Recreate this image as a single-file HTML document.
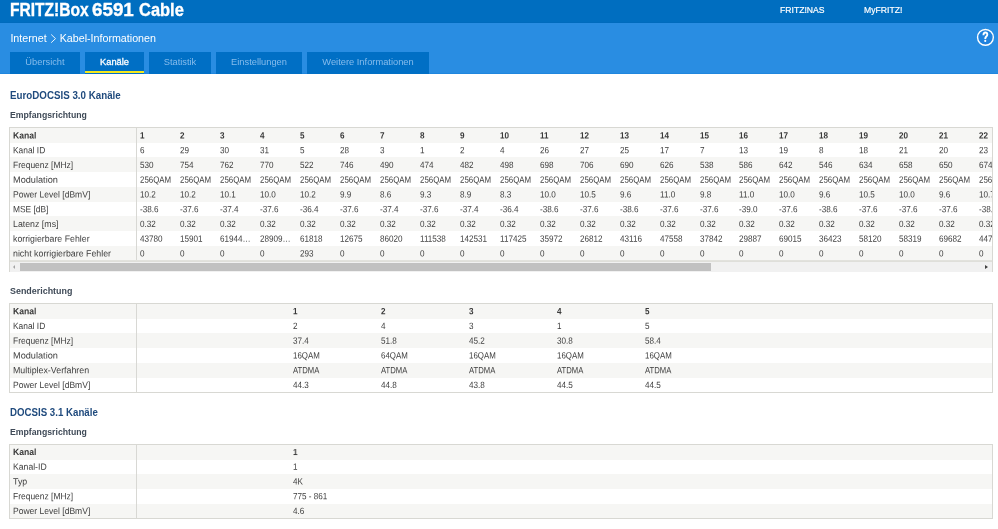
<!DOCTYPE html>
<html><head><meta charset="utf-8">
<style>
*{box-sizing:border-box;margin:0;padding:0}
html,body{width:998px;height:529px;overflow:hidden;background:#fff}
body{font-family:"Liberation Sans",sans-serif;position:relative;color:#4b4b4b}
.abs{position:absolute;white-space:nowrap;line-height:1}
#wrap{position:absolute;left:0;top:0;width:998px;height:529px;will-change:transform}
#top{position:absolute;left:0;top:0;width:998px;height:22.8px;background:#006ec0;border-bottom:1px solid #006bbd}
#sub{position:absolute;left:0;top:22px;width:998px;height:51.85px;background:#298de2;border-bottom:1px solid #1f86de}
.ttl{top:0.5px;font-size:18px;font-weight:bold;color:#fff;-webkit-text-stroke:0.35px #fff;transform-origin:0 0}
.nav{font-size:9.7px;color:#fff;-webkit-text-stroke:0.2px #fff;top:5.25px;transform:scaleX(0.89);transform-origin:0 0}
#crumb,#crumb2{left:10.4px;top:33px;font-size:10.7px;color:#fff;transform-origin:0 0}
#crumb2{left:59.7px}
.tab{position:absolute;top:52px;height:22px;background:#006fc5;color:#86bcec;font-size:9.3px;text-align:center;line-height:20.6px;white-space:nowrap}
.tab.act{color:#fff;-webkit-text-stroke:0.3px #fff}
.tab.act:after{content:"";position:absolute;left:0;right:0;top:19px;height:2px;background:#f5e81c}
.h2{font-weight:bold;color:#1f4a7d;font-size:10px;transform-origin:0 0}
.h3{font-weight:bold;color:#3f4a57;font-size:9px;transform-origin:0 0}
.tbl{position:absolute;left:9px;width:984px;border:1px solid #d8d8d3;background:#fff;overflow:hidden}
.r{position:absolute;left:0;right:0;height:14px;white-space:nowrap;font-size:9.1px;line-height:14px;color:#3e3e3e}
.st{position:absolute;left:0;right:0;height:14.74px;background:#f6f6f4}
.r.hd{font-weight:bold;color:#3a3a3a}
.r .h{position:absolute;left:2.9px;top:0;transform-origin:0 0;transform:translateY(var(--dy)) rotate(0.05deg) scaleX(var(--s))}
.r .c{position:absolute;top:0;--s:0.893;transform:translateY(var(--dy)) rotate(0.05deg) scaleX(var(--s));transform-origin:0 0}
.r .c.q{--s:0.869}
.r .c.a{--s:0.846}
.vsep{position:absolute;top:0;bottom:0;width:1px;background:#d8d8d4}
.t1 .vsep{left:126px}
.t2 .vsep,.t3 .vsep{left:126px}
#sb{position:absolute;left:10px;top:262px;width:982px;height:9.6px;background:#f1f1f1}
#sb:before{content:"";position:absolute;left:0;right:0;top:-2px;height:1px;background:#e2e2dd}
#sb:after{content:"";position:absolute;left:0;right:0;top:-1px;height:1px;background:#dfdfda}
.arr{position:absolute;top:2.5px;width:0;height:0;border-top:2.3px solid transparent;border-bottom:2.3px solid transparent}
#sb .thumb{position:absolute;left:10px;top:1px;width:691px;height:7.5px;background:#c1c1c1}
.t1{top:127px;height:144.6px;border-bottom:none}
.t2{top:303px;height:90.1px}
.t3{top:444px;height:75.3px}
</style></head><body>
<div id="wrap">
<div id="sub"></div><div id="top"></div>
<div class="abs ttl" style="left:9.5px;transform:scaleX(0.865)">FRITZ!Box</div><div class="abs ttl" style="left:92.45px;transform:scaleX(1.044)">6591</div><div class="abs ttl" style="left:138.95px;transform:scaleX(0.914)">Cable</div>
<div class="abs nav" style="left:779.8px">FRITZ!NAS</div>
<div class="abs nav" style="left:864.2px">MyFRITZ!</div>
<div id="crumb" class="abs">Internet</div>
<svg class="abs" style="left:50px;top:33px" width="8" height="12" viewBox="0 0 8 12"><path transform="translate(0.2 0.6)" d="M1 0.9 L5.3 5 L1 9.1" fill="none" stroke="#fff" stroke-width="0.9"/></svg>
<div id="crumb2" class="abs">Kabel-Informationen</div>
<svg class="abs" style="left:975px;top:27px" width="22" height="22" viewBox="0 0 22 22"><g transform="translate(0.45 0.35)"><circle cx="10" cy="10" r="7.9" fill="#1f82de" stroke="#fff" stroke-width="1.4"/><path d="M8.0 7.9 C8.0 6.2 8.8 5.2 10.0 5.2 C11.2 5.2 11.85 6.1 11.85 7.3 C11.85 8.3 11.2 8.8 10.6 9.4 C10 10 9.8 10.5 9.8 11.7" fill="none" stroke="#fff" stroke-width="1.9"/><circle cx="9.8" cy="13.55" r="1.05" fill="#fff"/></g></svg>
<div class="tab" style="left:10px;width:70px">Übersicht</div>
<div class="tab act" style="left:85px;width:59px">Kanäle</div>
<div class="tab" style="left:149px;width:62px">Statistik</div>
<div class="tab" style="left:216px;width:86px">Einstellungen</div>
<div class="tab" style="left:307px;width:122px">Weitere Informationen</div>

<div class="abs h2" style="left:9.5px;top:90.8px;transform:scaleX(0.977)">EuroDOCSIS 3.0 Kanäle</div>
<div class="abs h3" style="left:9.5px;top:111.1px;transform:scaleX(0.967)">Empfangsrichtung</div>
<div class="tbl t1">
<div class="st" style="top:0.00px"></div>
<div class="st" style="top:29.48px"></div>
<div class="st" style="top:58.96px"></div>
<div class="st" style="top:88.44px"></div>
<div class="st" style="top:117.92px"></div>
<div class="r hd" style="top:0px;--dy:0.50px"><span class="h" style="--s:0.947">Kanal</span>
<span class="c" style="left:130.00px">1</span>
<span class="c" style="left:169.97px">2</span>
<span class="c" style="left:209.93px">3</span>
<span class="c" style="left:249.90px">4</span>
<span class="c" style="left:289.86px">5</span>
<span class="c" style="left:329.83px">6</span>
<span class="c" style="left:369.79px">7</span>
<span class="c" style="left:409.75px">8</span>
<span class="c" style="left:449.72px">9</span>
<span class="c" style="left:489.69px">10</span>
<span class="c" style="left:529.65px">11</span>
<span class="c" style="left:569.62px">12</span>
<span class="c" style="left:609.58px">13</span>
<span class="c" style="left:649.55px">14</span>
<span class="c" style="left:689.51px">15</span>
<span class="c" style="left:729.48px">16</span>
<span class="c" style="left:769.44px">17</span>
<span class="c" style="left:809.41px">18</span>
<span class="c" style="left:849.37px">19</span>
<span class="c" style="left:889.34px">20</span>
<span class="c" style="left:929.30px">21</span>
<span class="c" style="left:969.27px">22</span>
</div>
<div class="r" style="top:15px;--dy:0.24px"><span class="h" style="--s:0.924">Kanal ID</span>
<span class="c" style="left:130.00px">6</span>
<span class="c" style="left:169.97px">29</span>
<span class="c" style="left:209.93px">30</span>
<span class="c" style="left:249.90px">31</span>
<span class="c" style="left:289.86px">5</span>
<span class="c" style="left:329.83px">28</span>
<span class="c" style="left:369.79px">3</span>
<span class="c" style="left:409.75px">1</span>
<span class="c" style="left:449.72px">2</span>
<span class="c" style="left:489.69px">4</span>
<span class="c" style="left:529.65px">26</span>
<span class="c" style="left:569.62px">27</span>
<span class="c" style="left:609.58px">25</span>
<span class="c" style="left:649.55px">17</span>
<span class="c" style="left:689.51px">7</span>
<span class="c" style="left:729.48px">13</span>
<span class="c" style="left:769.44px">19</span>
<span class="c" style="left:809.41px">8</span>
<span class="c" style="left:849.37px">18</span>
<span class="c" style="left:889.34px">21</span>
<span class="c" style="left:929.30px">20</span>
<span class="c" style="left:969.27px">23</span>
</div>
<div class="r" style="top:29px;--dy:0.98px"><span class="h" style="--s:0.93">Frequenz [MHz]</span>
<span class="c" style="left:130.00px">530</span>
<span class="c" style="left:169.97px">754</span>
<span class="c" style="left:209.93px">762</span>
<span class="c" style="left:249.90px">770</span>
<span class="c" style="left:289.86px">522</span>
<span class="c" style="left:329.83px">746</span>
<span class="c" style="left:369.79px">490</span>
<span class="c" style="left:409.75px">474</span>
<span class="c" style="left:449.72px">482</span>
<span class="c" style="left:489.69px">498</span>
<span class="c" style="left:529.65px">698</span>
<span class="c" style="left:569.62px">706</span>
<span class="c" style="left:609.58px">690</span>
<span class="c" style="left:649.55px">626</span>
<span class="c" style="left:689.51px">538</span>
<span class="c" style="left:729.48px">586</span>
<span class="c" style="left:769.44px">642</span>
<span class="c" style="left:809.41px">546</span>
<span class="c" style="left:849.37px">634</span>
<span class="c" style="left:889.34px">658</span>
<span class="c" style="left:929.30px">650</span>
<span class="c" style="left:969.27px">674</span>
</div>
<div class="r" style="top:44px;--dy:0.72px"><span class="h" style="--s:1.01">Modulation</span>
<span class="c q" style="left:130.00px">256QAM</span>
<span class="c q" style="left:169.97px">256QAM</span>
<span class="c q" style="left:209.93px">256QAM</span>
<span class="c q" style="left:249.90px">256QAM</span>
<span class="c q" style="left:289.86px">256QAM</span>
<span class="c q" style="left:329.83px">256QAM</span>
<span class="c q" style="left:369.79px">256QAM</span>
<span class="c q" style="left:409.75px">256QAM</span>
<span class="c q" style="left:449.72px">256QAM</span>
<span class="c q" style="left:489.69px">256QAM</span>
<span class="c q" style="left:529.65px">256QAM</span>
<span class="c q" style="left:569.62px">256QAM</span>
<span class="c q" style="left:609.58px">256QAM</span>
<span class="c q" style="left:649.55px">256QAM</span>
<span class="c q" style="left:689.51px">256QAM</span>
<span class="c q" style="left:729.48px">256QAM</span>
<span class="c q" style="left:769.44px">256QAM</span>
<span class="c q" style="left:809.41px">256QAM</span>
<span class="c q" style="left:849.37px">256QAM</span>
<span class="c q" style="left:889.34px">256QAM</span>
<span class="c q" style="left:929.30px">256QAM</span>
<span class="c q" style="left:969.27px">256QAM</span>
</div>
<div class="r" style="top:59px;--dy:0.46px"><span class="h" style="--s:0.938">Power Level [dBmV]</span>
<span class="c" style="left:130.00px">10.2</span>
<span class="c" style="left:169.97px">10.2</span>
<span class="c" style="left:209.93px">10.1</span>
<span class="c" style="left:249.90px">10.0</span>
<span class="c" style="left:289.86px">10.2</span>
<span class="c" style="left:329.83px">9.9</span>
<span class="c" style="left:369.79px">8.6</span>
<span class="c" style="left:409.75px">9.3</span>
<span class="c" style="left:449.72px">8.9</span>
<span class="c" style="left:489.69px">8.3</span>
<span class="c" style="left:529.65px">10.0</span>
<span class="c" style="left:569.62px">10.5</span>
<span class="c" style="left:609.58px">9.6</span>
<span class="c" style="left:649.55px">11.0</span>
<span class="c" style="left:689.51px">9.8</span>
<span class="c" style="left:729.48px">11.0</span>
<span class="c" style="left:769.44px">10.0</span>
<span class="c" style="left:809.41px">9.6</span>
<span class="c" style="left:849.37px">10.5</span>
<span class="c" style="left:889.34px">10.0</span>
<span class="c" style="left:929.30px">9.6</span>
<span class="c" style="left:969.27px">10.7</span>
</div>
<div class="r" style="top:74px;--dy:0.20px"><span class="h" style="--s:0.923">MSE [dB]</span>
<span class="c" style="left:130.00px">-38.6</span>
<span class="c" style="left:169.97px">-37.6</span>
<span class="c" style="left:209.93px">-37.4</span>
<span class="c" style="left:249.90px">-37.6</span>
<span class="c" style="left:289.86px">-36.4</span>
<span class="c" style="left:329.83px">-37.6</span>
<span class="c" style="left:369.79px">-37.4</span>
<span class="c" style="left:409.75px">-37.6</span>
<span class="c" style="left:449.72px">-37.4</span>
<span class="c" style="left:489.69px">-36.4</span>
<span class="c" style="left:529.65px">-38.6</span>
<span class="c" style="left:569.62px">-37.6</span>
<span class="c" style="left:609.58px">-38.6</span>
<span class="c" style="left:649.55px">-37.6</span>
<span class="c" style="left:689.51px">-37.6</span>
<span class="c" style="left:729.48px">-39.0</span>
<span class="c" style="left:769.44px">-37.6</span>
<span class="c" style="left:809.41px">-38.6</span>
<span class="c" style="left:849.37px">-37.6</span>
<span class="c" style="left:889.34px">-37.6</span>
<span class="c" style="left:929.30px">-37.6</span>
<span class="c" style="left:969.27px">-38.6</span>
</div>
<div class="r" style="top:88px;--dy:0.94px"><span class="h" style="--s:0.968">Latenz [ms]</span>
<span class="c" style="left:130.00px">0.32</span>
<span class="c" style="left:169.97px">0.32</span>
<span class="c" style="left:209.93px">0.32</span>
<span class="c" style="left:249.90px">0.32</span>
<span class="c" style="left:289.86px">0.32</span>
<span class="c" style="left:329.83px">0.32</span>
<span class="c" style="left:369.79px">0.32</span>
<span class="c" style="left:409.75px">0.32</span>
<span class="c" style="left:449.72px">0.32</span>
<span class="c" style="left:489.69px">0.32</span>
<span class="c" style="left:529.65px">0.32</span>
<span class="c" style="left:569.62px">0.32</span>
<span class="c" style="left:609.58px">0.32</span>
<span class="c" style="left:649.55px">0.32</span>
<span class="c" style="left:689.51px">0.32</span>
<span class="c" style="left:729.48px">0.32</span>
<span class="c" style="left:769.44px">0.32</span>
<span class="c" style="left:809.41px">0.32</span>
<span class="c" style="left:849.37px">0.32</span>
<span class="c" style="left:889.34px">0.32</span>
<span class="c" style="left:929.30px">0.32</span>
<span class="c" style="left:969.27px">0.32</span>
</div>
<div class="r" style="top:103px;--dy:0.68px"><span class="h" style="--s:0.965">korrigierbare Fehler</span>
<span class="c" style="left:130.00px">43780</span>
<span class="c" style="left:169.97px">15901</span>
<span class="c" style="left:209.93px">61944…</span>
<span class="c" style="left:249.90px">28909…</span>
<span class="c" style="left:289.86px">61818</span>
<span class="c" style="left:329.83px">12675</span>
<span class="c" style="left:369.79px">86020</span>
<span class="c" style="left:409.75px">111538</span>
<span class="c" style="left:449.72px">142531</span>
<span class="c" style="left:489.69px">117425</span>
<span class="c" style="left:529.65px">35972</span>
<span class="c" style="left:569.62px">26812</span>
<span class="c" style="left:609.58px">43116</span>
<span class="c" style="left:649.55px">47558</span>
<span class="c" style="left:689.51px">37842</span>
<span class="c" style="left:729.48px">29887</span>
<span class="c" style="left:769.44px">69015</span>
<span class="c" style="left:809.41px">36423</span>
<span class="c" style="left:849.37px">58120</span>
<span class="c" style="left:889.34px">58319</span>
<span class="c" style="left:929.30px">69682</span>
<span class="c" style="left:969.27px">44712</span>
</div>
<div class="r" style="top:118px;--dy:0.42px"><span class="h" style="--s:0.97">nicht korrigierbare Fehler</span>
<span class="c" style="left:130.00px">0</span>
<span class="c" style="left:169.97px">0</span>
<span class="c" style="left:209.93px">0</span>
<span class="c" style="left:249.90px">0</span>
<span class="c" style="left:289.86px">293</span>
<span class="c" style="left:329.83px">0</span>
<span class="c" style="left:369.79px">0</span>
<span class="c" style="left:409.75px">0</span>
<span class="c" style="left:449.72px">0</span>
<span class="c" style="left:489.69px">0</span>
<span class="c" style="left:529.65px">0</span>
<span class="c" style="left:569.62px">0</span>
<span class="c" style="left:609.58px">0</span>
<span class="c" style="left:649.55px">0</span>
<span class="c" style="left:689.51px">0</span>
<span class="c" style="left:729.48px">0</span>
<span class="c" style="left:769.44px">0</span>
<span class="c" style="left:809.41px">0</span>
<span class="c" style="left:849.37px">0</span>
<span class="c" style="left:889.34px">0</span>
<span class="c" style="left:929.30px">0</span>
<span class="c" style="left:969.27px">0</span>
</div>
<div class="vsep"></div>
</div>
<div id="sb"><div class="thumb"></div><div class="arr" style="left:3px;border-right:2.6px solid #a3a3a3"></div><div class="arr" style="left:975.2px;border-left:3px solid #404040"></div></div>
<div class="abs h3" style="left:9.5px;top:287.1px;transform:scaleX(0.99)">Senderichtung</div>
<div class="tbl t2">
<div class="st" style="top:0.00px"></div>
<div class="st" style="top:29.48px"></div>
<div class="st" style="top:58.96px"></div>
<div class="r hd" style="top:0px;--dy:0.35px"><span class="h" style="--s:0.947">Kanal</span>
<span class="c" style="left:282.90px">1</span>
<span class="c" style="left:370.85px">2</span>
<span class="c" style="left:458.80px">3</span>
<span class="c" style="left:546.75px">4</span>
<span class="c" style="left:634.70px">5</span>
</div>
<div class="r" style="top:15px;--dy:0.09px"><span class="h" style="--s:0.924">Kanal ID</span>
<span class="c" style="left:282.90px">2</span>
<span class="c" style="left:370.85px">4</span>
<span class="c" style="left:458.80px">3</span>
<span class="c" style="left:546.75px">1</span>
<span class="c" style="left:634.70px">5</span>
</div>
<div class="r" style="top:29px;--dy:0.83px"><span class="h" style="--s:0.93">Frequenz [MHz]</span>
<span class="c" style="left:282.90px">37.4</span>
<span class="c" style="left:370.85px">51.8</span>
<span class="c" style="left:458.80px">45.2</span>
<span class="c" style="left:546.75px">30.8</span>
<span class="c" style="left:634.70px">58.4</span>
</div>
<div class="r" style="top:44px;--dy:0.57px"><span class="h" style="--s:1.01">Modulation</span>
<span class="c q" style="left:282.90px">16QAM</span>
<span class="c q" style="left:370.85px">64QAM</span>
<span class="c q" style="left:458.80px">16QAM</span>
<span class="c q" style="left:546.75px">16QAM</span>
<span class="c q" style="left:634.70px">16QAM</span>
</div>
<div class="r" style="top:59px;--dy:0.31px"><span class="h" style="--s:0.972">Multiplex-Verfahren</span>
<span class="c a" style="left:282.90px">ATDMA</span>
<span class="c a" style="left:370.85px">ATDMA</span>
<span class="c a" style="left:458.80px">ATDMA</span>
<span class="c a" style="left:546.75px">ATDMA</span>
<span class="c a" style="left:634.70px">ATDMA</span>
</div>
<div class="r" style="top:74px;--dy:0.05px"><span class="h" style="--s:0.938">Power Level [dBmV]</span>
<span class="c" style="left:282.90px">44.3</span>
<span class="c" style="left:370.85px">44.8</span>
<span class="c" style="left:458.80px">43.8</span>
<span class="c" style="left:546.75px">44.5</span>
<span class="c" style="left:634.70px">44.5</span>
</div>
<div class="vsep"></div>
</div>
<div class="abs h2" style="left:9.5px;top:407.6px;transform:scaleX(0.969)">DOCSIS 3.1 Kanäle</div>
<div class="abs h3" style="left:9.5px;top:428.3px;transform:scaleX(0.967)">Empfangsrichtung</div>
<div class="tbl t3">
<div class="st" style="top:0.00px"></div>
<div class="st" style="top:29.48px"></div>
<div class="st" style="top:58.96px"></div>
<div class="r hd" style="top:0px;--dy:0.05px"><span class="h" style="--s:0.947">Kanal</span>
<span class="c" style="left:282.90px">1</span>
</div>
<div class="r" style="top:14px;--dy:0.79px"><span class="h" style="--s:0.951">Kanal-ID</span>
<span class="c" style="left:282.90px">1</span>
</div>
<div class="r" style="top:29px;--dy:0.53px"><span class="h" style="--s:0.971">Typ</span>
<span class="c" style="left:282.90px">4K</span>
</div>
<div class="r" style="top:44px;--dy:0.27px"><span class="h" style="--s:0.93">Frequenz [MHz]</span>
<span class="c" style="left:282.90px">775 - 861</span>
</div>
<div class="r" style="top:59px;--dy:0.01px"><span class="h" style="--s:0.938">Power Level [dBmV]</span>
<span class="c" style="left:282.90px">4.6</span>
</div>
<div class="vsep"></div>
</div>
</div>
</body></html>
